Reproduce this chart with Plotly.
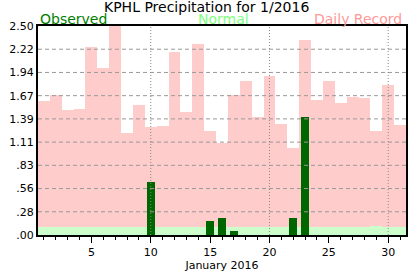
import plotly.graph_objects as go

days = list(range(1, 32))
record = [1.60, 1.68, 1.50, 1.51, 2.25, 2.00, 2.57, 1.22, 1.55, 1.29,
          1.30, 2.19, 1.47, 2.28, 1.24, 1.10, 1.67, 1.84, 1.41, 1.90,
          1.33, 1.04, 2.33, 1.61, 1.84, 1.58, 1.65, 1.64, 1.24, 1.80, 1.31]
normal = [0.09, 0.10, 0.09, 0.10, 0.10, 0.09, 0.10, 0.09, 0.10, 0.10,
          0.10, 0.10, 0.10, 0.10, 0.10, 0.10, 0.10, 0.10, 0.09, 0.10,
          0.10, 0.10, 0.10, 0.10, 0.10, 0.09, 0.10, 0.09, 0.11, 0.10, 0.10]
obs_days = [10, 15, 16, 17, 22, 23]
observed = [0.64, 0.17, 0.20, 0.05, 0.20, 1.41]

ytick_vals = [i * 2.5 / 9 for i in range(10)]
ytick_text = [".00", ".28", ".56", ".83", "1.11", "1.39", "1.67", "1.94", "2.22", "2.50"]
xtick_vals = [5, 10, 15, 20, 25, 30]

FONT = "DejaVu Sans"

fig = go.Figure()
fig.add_trace(go.Bar(x=days, y=record, width=1.0, marker=dict(color="#ffcccc", line=dict(width=0)),
                     name="Daily Record"))
fig.add_trace(go.Bar(x=days, y=normal, width=1.0, marker=dict(color="#ccffcc", line=dict(width=0)),
                     name="Normal"))
fig.add_trace(go.Bar(x=obs_days, y=observed, width=0.67, marker=dict(color="#006600", line=dict(width=0)),
                     name="Observed"))

shapes = []
for v in ytick_vals[1:-1]:
    shapes.append(dict(type="line", xref="paper", x0=0, x1=1, yref="y", y0=v, y1=v,
                       line=dict(color="#999999", width=1, dash="4px,3px"), layer="above"))
for d in [10, 20, 30]:
    shapes.append(dict(type="line", xref="x", x0=d, x1=d, yref="paper", y0=0, y1=1,
                       line=dict(color="#888888", width=1, dash="1px,2px"), layer="above"))

fig.update_layout(
    width=417, height=276,
    margin=dict(l=36, r=9, t=26, b=30),
    paper_bgcolor="white", plot_bgcolor="white",
    barmode="overlay", bargap=0, showlegend=False,
    font=dict(family=FONT, color="black", size=11),
    shapes=shapes,
    xaxis=dict(range=[0.5, 31.5], tickmode="array", tickvals=xtick_vals, ticktext=[str(v) for v in xtick_vals],
               ticks="outside", ticklen=6, tickcolor="black", showgrid=False, zeroline=False,
               showline=True, linecolor="black", linewidth=2, mirror=True, layer="above traces",
               tickfont=dict(size=11, family=FONT),
               minor=dict(tickmode="linear", tick0=0, dtick=1, ticks="outside", ticklen=3, tickcolor="black", showgrid=False),
               title=dict(text="January 2016", font=dict(size=11, family=FONT), standoff=0)),
    yaxis=dict(range=[0, 2.5], tickmode="array", tickvals=ytick_vals, ticktext=ytick_text,
               ticks="", showgrid=False, zeroline=False, showline=True, linecolor="black", linewidth=2,
               mirror=True, layer="above traces", tickfont=dict(size=11, family=FONT)),
    annotations=[
        dict(text="KPHL Precipitation for 1/2016", xref="paper", yref="paper", x=0.458, y=1,
             xanchor="center", yanchor="bottom", yshift=9, showarrow=False,
             font=dict(size=14, family=FONT, color="black")),
        dict(text="Observed", xref="paper", yref="paper", x=0, y=1, xanchor="left", yanchor="bottom",
             yshift=-3, showarrow=False, font=dict(size=14, family=FONT, color="#008000")),
        dict(text="Normal", xref="paper", yref="paper", x=0.505, y=1, xanchor="center", yanchor="bottom",
             yshift=-3, showarrow=False, font=dict(size=14, family=FONT, color="#80ff80")),
        dict(text="Daily Record", xref="paper", yref="paper", x=1, y=1, xanchor="right", yanchor="bottom",
             xshift=-2, yshift=-3, showarrow=False, font=dict(size=14, family=FONT, color="#ff9999")),
    ],
)

fig.write_html("out.html")
